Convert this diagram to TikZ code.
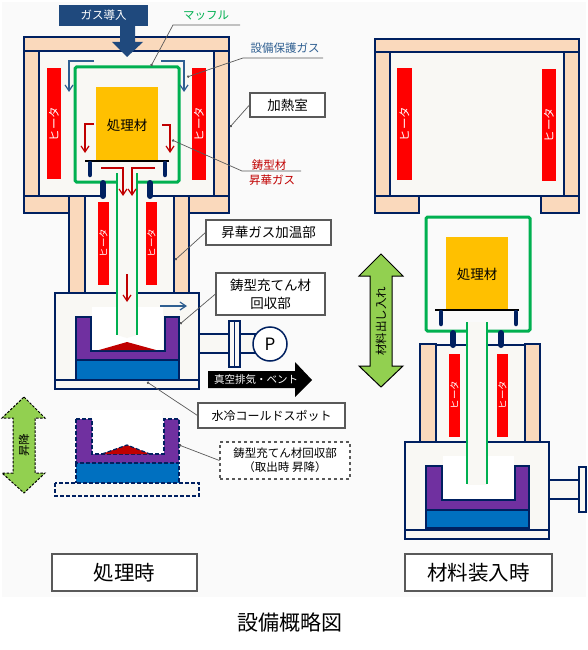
\documentclass[tikz,border=0pt]{standalone}
\usepackage{fontspec}
\setmainfont{Noto Sans CJK JP}
\usetikzlibrary{arrows.meta}

\definecolor{navyline}{HTML}{002060}
\definecolor{wallpeach}{HTML}{FAD9BC}
\definecolor{roomgray}{HTML}{F9F8F4}
\definecolor{backgray}{HTML}{FAFAFA}
\definecolor{mufflegreen}{HTML}{00B050}
\definecolor{gasblue}{HTML}{1F497D}
\definecolor{flowblue}{HTML}{2F5F91}
\definecolor{flowred}{HTML}{C00000}
\definecolor{leadgray}{HTML}{595959}
\definecolor{liftgreen}{HTML}{92D050}
\definecolor{cruciblepurple}{HTML}{7030A0}
\definecolor{coldbluefill}{HTML}{0070C0}
\definecolor{workyellow}{HTML}{FFC000}

\tikzset{
  wallpart/.style={draw=navyline,fill=wallpeach,line width=1.5pt},
  roompart/.style={draw=navyline,fill=roomgray,line width=1.5pt},
  heaterbar/.style={fill=red},
  heatertext/.style={text=white,rotate=90,inner sep=0pt,font=\fontsize{11.5}{13}\selectfont},
  heatersmall/.style={text=white,rotate=90,inner sep=0pt,font=\fontsize{9.5}{11}\selectfont},
  muffleline/.style={draw=mufflegreen,line width=3pt,rounded corners=1.5pt},
  tubeline/.style={draw=mufflegreen,line width=1.6pt},
  crucible/.style={draw=navyline,fill=cruciblepurple,line width=1.5pt},
  coldblock/.style={draw=navyline,fill=coldbluefill,line width=1.5pt},
  workpiece/.style={fill=workyellow},
  plateline/.style={line width=2.5pt,black},
  legline/.style={navyline,line width=4.5pt,line cap=round},
  dashpart/.style={dash pattern=on 4pt off 2pt},
  flowarrowb/.style={flowblue,line width=1.2pt,-{Straight Barb[length=6pt,width=8pt]}},
  flowarrowr/.style={flowred,line width=1.2pt,-{Straight Barb[length=6pt,width=8pt]}},
  leaderline/.style={leadgray,line width=.7pt,-{Circle[length=2.5pt]}},
  calloutbox/.style={draw=leadgray,fill=white,line width=1.1pt,align=center,inner sep=0pt},
  txtS/.style={font=\fontsize{11.5}{14}\selectfont,inner sep=0pt},
  txtM/.style={font=\fontsize{13.5}{18}\selectfont,inner sep=0pt},
  txtL/.style={font=\fontsize{20.5}{24}\selectfont,inner sep=0pt},
}

\begin{document}
\begin{tikzpicture}[x=1pt,y=-1pt]
  \useasboundingbox (0,0) rectangle (588,650);
  % Fondo
  \fill[backgray] (2,2) rectangle (586,597);

  % Horno superior (izquierda)
  \fill[roomgray] (39,51) rectangle (214,196);
  \fill[roomgray] (85,196) rectangle (174,293);
  \draw[wallpart] (24,37) rectangle (229,51);
  \draw[wallpart] (24,51) rectangle (39,196);
  \draw[wallpart] (214,51) rectangle (229,196);
  \draw[wallpart] (24,196) rectangle (69,213);
  \draw[wallpart] (189,196) rectangle (229,213);
  \draw[navyline,line width=1.5pt] (39,196) -- (103,196) (150,196) -- (214,196);
  \draw[wallpart] (69,196) rectangle (85,293);
  \draw[wallpart] (174,196) rectangle (189,293);

  % Calentadores
  \fill[heaterbar] (47,68) rectangle (61,179);
  \node[heatertext] (heatUpLeft) at (54,124) {ヒータ};
  \fill[heaterbar] (192,68) rectangle (206,180);
  \node[heatertext] (heatUpRight) at (199,124) {ヒータ};
  \fill[heaterbar] (98,202) rectangle (109,285);
  \node[heatersmall] (heatLowLeft) at (103.5,243) {ヒータ};
  \fill[heaterbar] (146,202) rectangle (157,285);
  \node[heatersmall] (heatLowRight) at (151.5,243) {ヒータ};

  % Camara inferior y crisol
  \draw[roompart] (55,293) rectangle (199,389);
  \draw[navyline,line width=1.5pt] (55,380) -- (199,380);
  \fill[white] (92,307) rectangle (163,351);
  \draw[crucible] (76,317) -- (91,317) -- (91,351) -- (165,351) -- (165,317) -- (179,317) -- (179,360) -- (76,360) -- cycle;
  \draw[coldblock] (76,360) rectangle (179,380);
  \fill[flowred] (99,350) -- (127,342) -- (156,350) -- cycle;

  % Mufla y tubo
  \draw[muffleline,fill=roomgray] (117,182) -- (75,182) -- (75,67) -- (179,67) -- (179,182) -- (137,182);
  \fill[roomgray] (117,173) -- (137,173) -- (137,335) -- (127,338) -- (117,335) -- cycle;
  \draw[tubeline] (117,173) -- (117,335);
  \draw[tubeline] (137,173) -- (137,335);
  \fill[workpiece] (96,87) rectangle (158,160);
  \node[txtM] (workLeft) at (127,125) {処理材};
  \draw[plateline] (85,161) -- (169,161);
  \draw[legline] (90,163) -- (90,175);
  \draw[legline] (165,163) -- (165,175);
  \draw[legline,line width=6pt] (103,183) -- (103,196);
  \draw[legline,line width=6pt] (150,183) -- (150,196);

  % Flechas de gas
  \draw[flowarrowb] (94,61) -- (69,61) -- (69,92);
  \draw[flowarrowb] (161,61) -- (184,61) -- (184,92);
  \draw[flowarrowr] (94,124) -- (85,124) -- (85,153);
  \draw[flowarrowr] (162,125) -- (170,125) -- (170,153);
  \draw[flowarrowr] (101,168) -- (123,168) -- (123,196);
  \draw[flowarrowr] (155,168) -- (132,168) -- (132,196);
  \draw[flowarrowr] (127,274) -- (127,302);
  \draw[flowarrowb] (160,306) -- (187,306);

  % Entrada de gas
  \fill[gasblue] (120,26) -- (135,26) -- (135,42) -- (143,42) -- (127,57) -- (112,42) -- (120,42) -- cycle;
  \node[fill=gasblue,text=white,txtS,minimum width=89pt,minimum height=21pt] (gasIn) at (103.5,15.5) {ガス導入};

  % Bomba y escape
  \draw[roompart] (199,334) rectangle (255,353);
  \draw[roompart] (229,321) rectangle (234.5,367);
  \draw[roompart] (234.5,321) rectangle (240,367);
  \node[circle,draw=navyline,fill=white,line width=1.5pt,minimum size=34pt,inner sep=0pt,font=\fontsize{17}{19}\selectfont] (pump) at (270,344) {P};
  \fill[black] (208,371) -- (295,371) -- (295,362) -- (312,380) -- (295,397) -- (295,388) -- (208,388) -- cycle;
  \node[text=white,font=\fontsize{10.5}{12}\selectfont,inner sep=0pt] (vacuum) at (256,380) {真空排気・ベント};

  % Crisol en posicion de salida (trazos)
  \fill[white] (92,410) rectangle (162,454);
  \draw[crucible,dashpart] (76,419) -- (92,419) -- (92,454) -- (164,454) -- (164,419) -- (179,419) -- (179,463) -- (76,463) -- cycle;
  \draw[coldblock,dashpart] (76,463) rectangle (179,484);
  \draw[roompart,dashpart] (55,483) rectangle (199,496);
  \draw[navyline,fill=flowred,line width=1.2pt,dashpart] (102,454) -- (127,445) -- (150,454);

  % Flecha subir / bajar
  \draw[fill=liftgreen,line width=1pt,dashpart,dash pattern=on 2.5pt off 1.5pt] (24,397) -- (45,418) -- (35,418) -- (35,473) -- (45,473) -- (24,493) -- (2,473) -- (13,473) -- (13,418) -- (2,418) -- cycle;
  \node[txtS,rotate=90] (liftLeft) at (24,445) {昇降};

  % Rotulos
  \node[txtS,text=mufflegreen] (lblMuffle) at (206,16) {マッフル};
  \coordinate (endMuffle) at (240,25);
  \coordinate (kneeMuffle) at (173,25);
  \coordinate (tipMuffle) at (151,66);
  \draw[leaderline] (endMuffle) -- (kneeMuffle) -- (tipMuffle);

  \node[txtS,text=flowblue] (lblShield) at (285,48) {設備保護ガス};
  \coordinate (endShield) at (323,58);
  \coordinate (kneeShield) at (243,58);
  \coordinate (tipShield) at (187,77);
  \draw[leaderline] (endShield) -- (kneeShield) -- (tipShield);

  \node[calloutbox,txtM,minimum width=75pt,minimum height=24pt] (boxHeat) at (287.5,105) {加熱室};
  \coordinate (tipHeat) at (230,127);
  \draw[leaderline] (boxHeat.west) -- (tipHeat);

  \node[txtS,text=flowred] (lblMold) at (269,165) {鋳型材};
  \node[txtS,text=flowred] (lblSublime) at (272,180) {昇華ガス};
  \coordinate (endSublime) at (301,171);
  \coordinate (kneeSublime) at (242,171);
  \coordinate (tipSublime) at (172,140);
  \draw[leaderline] (endSublime) -- (kneeSublime) -- (tipSublime);

  \node[calloutbox,txtM,minimum width=125pt,minimum height=25pt] (boxWarm) at (268.5,232.5) {昇華ガス加温部};
  \coordinate (tipWarm) at (175,260);
  \draw[leaderline] (boxWarm.west) -- (tipWarm);

  \node[calloutbox,txtM,minimum width=109pt,minimum height=42pt] (boxCatch) at (270.5,294) {鋳型充てん材\\回収部};
  \coordinate (tipCatch) at (180,324);
  \draw[leaderline] (boxCatch.west) -- (tipCatch);

  \node[calloutbox,font=\fontsize{12}{14}\selectfont,minimum width=147pt,minimum height=25pt] (boxCold) at (271.5,415.5) {水冷コールドスポット};
  \coordinate (tipCold) at (147,382);
  \draw[leaderline] (boxCold.west) -- (tipCold);

  \node[calloutbox,dashed,font=\fontsize{11.5}{14}\selectfont,minimum width=130pt,minimum height=37pt] (boxOut) at (285,460.5) {鋳型充てん材回収部\\（取出時 昇降）};
  \coordinate (tipOut) at (179,445);
  \draw[leaderline] (boxOut.west) -- (tipOut);

  \node[calloutbox,txtL,minimum width=145pt,minimum height=37pt] (boxRun) at (124.5,572.5) {処理時};

  % Horno superior (derecha)
  \fill[roomgray] (390,52) rectangle (564,196);
  \draw[wallpart] (375,39) rectangle (579,52);
  \draw[wallpart] (375,52) rectangle (390,196);
  \draw[wallpart] (564,52) rectangle (579,196);
  \draw[navyline,line width=1.5pt] (390,196) -- (564,196);
  \draw[wallpart] (375,196) rectangle (419,213);
  \draw[wallpart] (541,196) rectangle (579,213);
  \fill[heaterbar] (397,68) rectangle (412,180);
  \node[heatertext] (heatUpLeftB) at (404.5,124) {ヒータ};
  \fill[heaterbar] (542,69) rectangle (556,181);
  \node[heatertext] (heatUpRightB) at (549,125) {ヒータ};

  % Parte inferior (derecha)
  \fill[roomgray] (436,345) rectangle (525,442);
  \draw[navyline,line width=1.5pt] (436,345) -- (525,345);
  \draw[wallpart] (420,344) rectangle (436,442);
  \draw[wallpart] (525,344) rectangle (540,442);
  \fill[heaterbar] (449,354) rectangle (460,437);
  \node[heatersmall] (heatLowLeftB) at (454.5,395) {ヒータ};
  \fill[heaterbar] (497,354) rectangle (508,437);
  \node[heatersmall] (heatLowRightB) at (502.5,395) {ヒータ};
  \draw[roompart] (405,442) rectangle (549,539);
  \draw[navyline,line width=1.5pt] (405,530) -- (549,530);
  \fill[white] (443,456) rectangle (514,500);
  \draw[crucible] (426,466) -- (442,466) -- (442,500) -- (515,500) -- (515,466) -- (529,466) -- (529,510) -- (426,510) -- cycle;
  \draw[coldblock] (426,510) rectangle (529,528);
  \draw[roompart] (549,480) rectangle (579,499);
  \draw[roompart] (579,467) rectangle (586,512);

  % Mufla y tubo (derecha)
  \draw[muffleline] (467,331) -- (426,331) -- (426,217) -- (530,217) -- (530,331) -- (487,331);
  \fill[roomgray] (467,322) rectangle (487,485);
  \draw[tubeline] (467,322) -- (467,484);
  \draw[tubeline] (487,322) -- (487,484);
  \fill[workpiece] (446,237) rectangle (508,309);
  \node[txtM] (workRight) at (477,274) {処理材};
  \draw[plateline] (435,310) -- (519,310);
  \draw[legline] (441,312) -- (441,324);
  \draw[legline] (516,312) -- (516,324);
  \draw[legline,line width=6pt] (453,333) -- (453,345);
  \draw[legline,line width=6pt] (501,333) -- (501,345);

  % Flecha de carga
  \draw[fill=liftgreen,line width=1pt] (381,254) -- (403,276) -- (392,276) -- (392,366) -- (403,366) -- (381,387) -- (359,366) -- (370,366) -- (370,276) -- (359,276) -- cycle;
  \node[txtS,rotate=90] (liftRight) at (381,321) {材料出し入れ};

  \node[calloutbox,txtL,minimum width=147pt,minimum height=37pt] (boxLoad) at (478.5,572.5) {材料装入時};

  % Titulo
  \node[font=\fontsize{21}{24}\selectfont,inner sep=0pt] (title) at (290,622) {設備概略図};
\end{tikzpicture}
\end{document}
